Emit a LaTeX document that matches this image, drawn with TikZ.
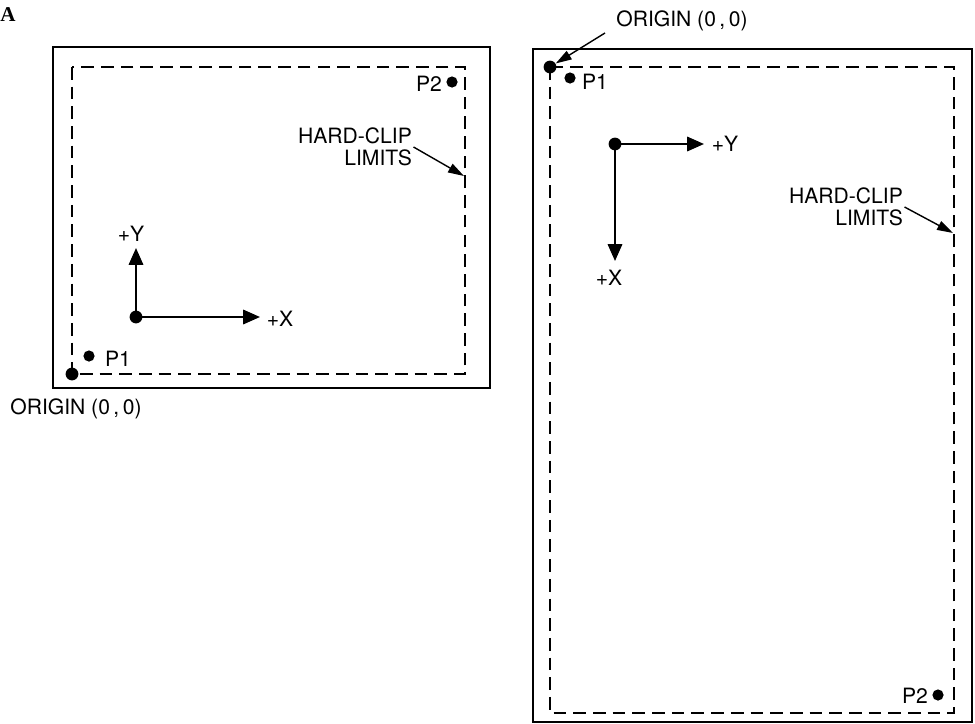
\documentclass[tikz,border=0pt]{standalone}
\usepackage{fontspec}
\setmainfont{TeX Gyre Heros}
\newfontfamily\figletter{Liberation Serif}
\usetikzlibrary{arrows.meta}
\tikzset{
  frame/.style={draw, line width=2pt},
  cliplimit/.style={draw, line width=0.9pt, dash pattern=on 9pt off 5pt},
  dot/.style={circle, fill, inner sep=0pt, minimum size=0.32cm},
  smalldot/.style={circle, fill, inner sep=0pt, minimum size=0.28cm},
  axis/.style={line width=1.4pt, -{Triangle[length=0.42cm, width=0.36cm]}},
  leader/.style={line width=1pt, -{Triangle[length=0.4cm, width=0.24cm]}},
  lbl/.style={font=\fontsize{15}{16}\selectfont, inner sep=1pt},
}
\begin{document}
\begin{tikzpicture}[x=0.025cm, y=-0.025cm]
    \useasboundingbox (0,0) rectangle (975,724);
    % figure letter
    \node[inner sep=0pt, anchor=west, font=\figletter\bfseries\fontsize{15}{15}\selectfont] (figA) at (0,15) {A};

    % Left sheet (landscape)
    \draw[frame] (53,47) rectangle (490,388);
    \draw[cliplimit] (72,67) rectangle (465,374);
    \node[dot] (ogL) at (72,374) {};
    \node[lbl] (ogLtxt) at (76,409) {ORIGIN (0\,,\,0)};
    \node[smalldot] (p1L) at (89,356) {};
    \node[lbl] (p1Ltxt) at (118,359) {P1};
    \node[smalldot] (p2L) at (452,82) {};
    \node[lbl] (p2Ltxt) at (429,84) {P2};
    % axes
    \node[dot] (axL) at (136,317) {};
    \coordinate (xtipL) at (260,317);
    \coordinate (ytipL) at (136,248);
    \draw[axis] (axL.center) -- (xtipL);
    \draw[axis] (axL.center) -- (ytipL);
    \node[lbl] (xLtxt) at (280,319) {+X};
    \node[lbl] (yLtxt) at (131,234) {+Y};
    % hard-clip limits
    \node[lbl, align=right] (hcL) at (355,147) {HARD-CLIP\\LIMITS};
    \coordinate (hcLend) at (464,176);
    \draw[leader] (hcL.east) -- (hcLend);

    % Right sheet (portrait)
    \draw[frame] (533,49) rectangle (972,722);
    \draw[cliplimit] (550,67) rectangle (954,713);
    \node[dot] (ogR) at (550,67) {};
    \node[lbl] (ogRtxt) at (682,21) {ORIGIN (0\,,\,0)};
    \coordinate (ogRtail) at (605,33);
    \draw[leader] (ogRtail) -- (ogR);
    \node[smalldot] (p1R) at (570,78) {};
    \node[lbl] (p1Rtxt) at (595,82) {P1};
    \node[smalldot] (p2R) at (938,695) {};
    \node[lbl] (p2Rtxt) at (915,696) {P2};
    % axes
    \node[dot] (axR) at (615,144) {};
    \coordinate (ytipR) at (704,144);
    \coordinate (xtipR) at (615,261);
    \draw[axis] (axR.center) -- (ytipR);
    \draw[axis] (axR.center) -- (xtipR);
    \node[lbl] (yRtxt) at (725,144) {+Y};
    \node[lbl] (xRtxt) at (609,278) {+X};
    % hard-clip limits
    \node[lbl, align=right] (hcR) at (846,207) {HARD-CLIP\\LIMITS};
    \coordinate (hcRend) at (953,233);
    \draw[leader] (hcR.east) -- (hcRend);
\end{tikzpicture}
\end{document}
